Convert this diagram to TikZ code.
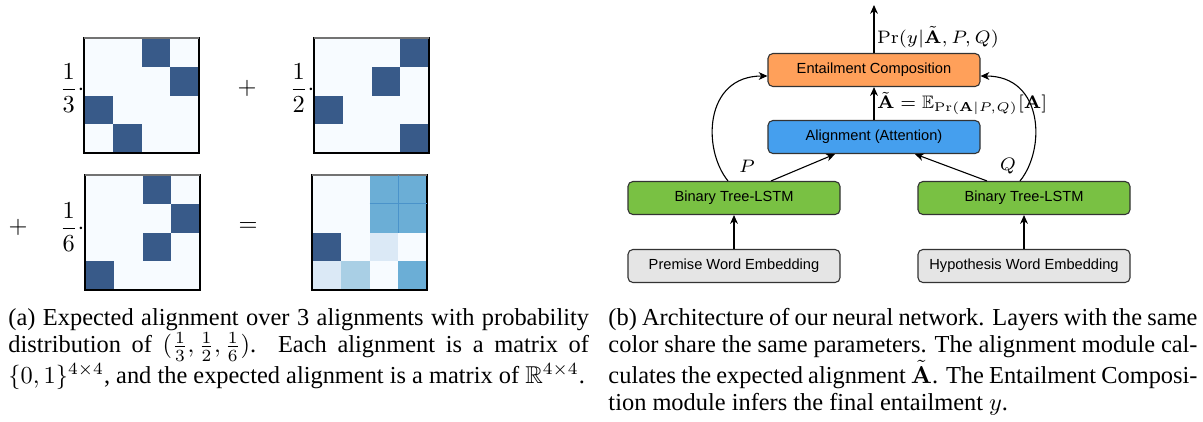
\RequirePackage{fix-cm}
\documentclass[tikz,border=0pt]{standalone}
\usepackage{amsmath,amssymb}
\usepackage[no-math]{fontspec}
\setmainfont{Liberation Serif}
\newfontfamily\boxfont{Liberation Sans}
\usetikzlibrary{arrows.meta,calc}
\definecolor{dk}{HTML}{385A89}
\definecolor{bgc}{HTML}{F7FBFF}
\definecolor{md}{HTML}{6BAED6}
\definecolor{mdline}{HTML}{4A93CA}
\definecolor{lm}{HTML}{A9CFE5}
\definecolor{vl}{HTML}{DBE9F6}
\definecolor{orangebox}{HTML}{FFA05A}
\definecolor{bluebox}{HTML}{459FEE}
\definecolor{greenbox}{HTML}{79C143}
\definecolor{graybox}{HTML}{E5E5E5}
\definecolor{edge}{HTML}{333333}
\newcommand{\drawmatrix}[3]{%
  \fill[bgc] (#1,#2) rectangle ++(115,115);
  \foreach \c/\r/\cl in {#3} \fill[\cl] ({#1+\c*28.75},{#2+\r*28.75}) rectangle ++(28.75,28.75);
  \draw[black, line width=0.5pt] (#1,#2) rectangle ++(115,115);
  \draw[black!55, line width=0.7pt] (#1,#2) -- ++(115,0);
}
\tikzset{
  layer/.style={draw=edge, line width=0.45pt, rounded corners=2pt, minimum width=212*0.41pt,
    minimum height=33*0.41pt, inner sep=0pt, font=\boxfont\fontsize{6}{7}\selectfont},
  arr/.style={-{Stealth[length=3.6pt,width=3.2pt,inset=1.1pt]}, line width=0.45pt},
  mlabel/.style={font=\fontsize{7.4}{9}\selectfont, inner sep=1pt},
  op/.style={font=\fontsize{10}{12}\selectfont, inner sep=0pt},
}
\begin{document}
\begin{tikzpicture}[x=0.41pt,y=-0.41pt]
\useasboundingbox (0,0) rectangle (1203,421);
% ---------- (a) ----------
\drawmatrix{84}{38}{2/0/dk,3/1/dk,0/2/dk,1/3/dk}
\drawmatrix{314}{38}{3/0/dk,2/1/dk,0/2/dk,3/3/dk}
\drawmatrix{85}{175}{2/0/dk,3/1/dk,2/2/dk,0/3/dk}
\drawmatrix{312}{175}{2/0/md,3/0/md,2/1/md,3/1/md,0/2/dk,2/2/vl,0/3/vl,1/3/lm,3/3/md}
\draw[mdline, line width=0.45pt] ({312+3*28.75},175) -- ++(0,57.5);
\draw[mdline, line width=0.45pt] ({312+2*28.75},{175+28.75}) -- ++(57.5,0);
\node[op] (f1) at (72,88) {$\displaystyle\frac{1}{3}\cdot$};
\node[op] (p1) at (247,88) {$+$};
\node[op] (f2) at (302,88) {$\displaystyle\frac{1}{2}\cdot$};
\node[op] (p2) at (18,227) {$+$};
\node[op] (f3) at (72,227) {$\displaystyle\frac{1}{6}\cdot$};
\node[op] (eq) at (248,227) {$=$};
% ---------- (b) ----------
\node[layer, fill=orangebox] (ent) at (874,70) {Entailment Composition};
\node[layer, fill=bluebox] (aln) at (874,137) {Alignment (Attention)};
\node[layer, fill=greenbox] (gl) at (734,198) {Binary Tree-LSTM};
\node[layer, fill=greenbox] (gr) at (1024,198) {Binary Tree-LSTM};
\node[layer, fill=graybox] (el) at (734,266) {Premise Word Embedding};
\node[layer, fill=graybox] (er) at (1024,266) {Hypothesis Word Embedding};
\coordinate (top) at (874,5);
\draw[arr] (ent.north) -- (top) node[mlabel, pos=0.33, anchor=west] {$\Pr(y|\tilde{\mathbf{A}},P,Q)$};
\draw[arr] (aln.north) -- (ent.south) node[mlabel, midway, anchor=west] {$\tilde{\mathbf{A}}=\mathbb{E}_{\Pr(\mathbf{A}|P,Q)}[\mathbf{A}]$};
\draw[arr] ($(gl.north)+(37,0)$) -- ($(aln.south)+(-39,0)$);
\draw[arr] ($(gr.north)+(-37,0)$) -- ($(aln.south)+(41,0)$);
\draw[arr] (el.north) -- (gl.south);
\draw[arr] (er.north) -- (gr.south);
\draw[arr] ($(gl.north)+(-6,0)$) .. controls +(-26,-32) and +(-63,0) .. ($(ent.west)+(0,6)$);
\draw[arr] ($(gr.north)+(-4,0)$) .. controls +(26,-32) and +(63,0) .. ($(ent.east)+(0,6)$);
\node[mlabel] (lp) at (747,166) {$P$};
\node[mlabel] (lq) at (1008,166) {$Q$};
% ---------- captions ----------
\node[anchor=north west, inner sep=0pt] (capa) at (8,308) {\parbox[t]{238pt}{\fontsize{10}{11.2}\selectfont\tolerance=10000\hyphenpenalty=10000
(a) Expected alignment over 3 alignments with probability\linebreak distribution of $(\frac{1}{3},\frac{1}{2},\frac{1}{6})$. Each alignment is a matrix of\linebreak $\{0,1\}^{4\times 4}$, and the expected alignment is a matrix of $\mathbb{R}^{4\times 4}$.}};
\node[anchor=north west, inner sep=0pt] (capb) at (608,308) {\parbox[t]{241.5pt}{\fontsize{10}{11.2}\selectfont\tolerance=10000\hyphenpenalty=10000
(b) Architecture of our neural network. Layers with the same\linebreak color share the same parameters. The alignment module cal-\linebreak culates the expected alignment $\tilde{\mathbf{A}}$. The Entailment Composi-\linebreak tion module infers the final entailment $y$.}};
\end{tikzpicture}
\end{document}
